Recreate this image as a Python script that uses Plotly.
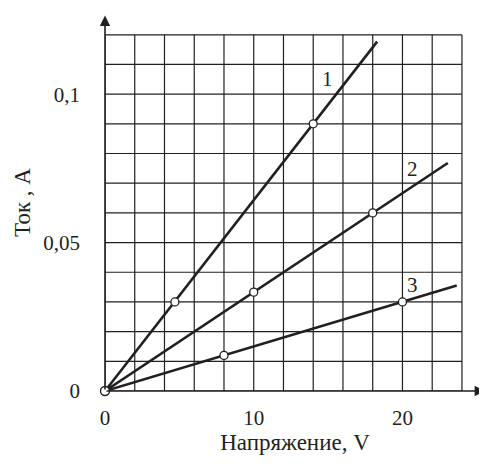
import plotly.graph_objects as go

# Data
line_labels = ["1", "2", "3"]
line_end_x = [18.3, 23.05, 23.65]
line_end_y = [0.1177, 0.0768, 0.0355]
points_x = [[4.7, 14.0], [10.0, 18.0], [8.0, 20.0]]
points_y = [[0.03, 0.09], [0.0333, 0.06], [0.012, 0.03]]
label_x = [14.95, 20.7, 20.7]
label_y = [0.105, 0.0748, 0.0358]
x_ticks = [0, 10, 20]
x_tick_text = ["0", "10", "20"]
y_ticks = [0, 0.05, 0.1]
y_tick_text = ["0", "0,05", "0,1"]
grid_x = list(range(0, 25, 2))
grid_y = [i / 100 for i in range(0, 13)]

FONT = "Times New Roman"
INK = "#231f20"

fig = go.Figure()

shapes = []
for gx in grid_x:
    shapes.append(dict(type="line", xref="x", yref="y", x0=gx, x1=gx, y0=0, y1=0.12,
                       line=dict(color=INK, width=1.2), layer="below"))
for gy in grid_y:
    shapes.append(dict(type="line", xref="x", yref="y", x0=0, x1=24, y0=gy, y1=gy,
                       line=dict(color=INK, width=1.2), layer="below"))
# tick marks
for v in y_ticks[1:]:
    shapes.append(dict(type="line", xref="x", yref="y", xsizemode="pixel", xanchor=0,
                       x0=-10, x1=0, y0=v, y1=v, line=dict(color=INK, width=1.5)))
for v in x_ticks[1:]:
    shapes.append(dict(type="line", xref="x", yref="y", ysizemode="pixel", yanchor=0,
                       x0=v, x1=v, y0=0, y1=-10, line=dict(color=INK, width=1.5)))

for i in range(3):
    fig.add_trace(go.Scatter(x=[0, line_end_x[i]], y=[0, line_end_y[i]], mode="lines",
                             line=dict(color=INK, width=2.6), showlegend=False,
                             hoverinfo="skip"))
for i in range(3):
    fig.add_trace(go.Scatter(x=points_x[i], y=points_y[i], mode="markers",
                             marker=dict(symbol="circle", size=8, color="white",
                                         line=dict(color=INK, width=1.3)),
                             showlegend=False, cliponaxis=False))
fig.add_trace(go.Scatter(x=[0], y=[0], mode="markers",
                         marker=dict(symbol="circle", size=9, color="white",
                                     line=dict(color=INK, width=1.4)),
                         showlegend=False, cliponaxis=False))

annotations = []
for i in range(3):
    annotations.append(dict(x=label_x[i], y=label_y[i], text=line_labels[i], showarrow=False,
                            font=dict(family=FONT, size=21, color=INK)))
# axis arrows
annotations.append(dict(x=25.55, y=0, ax=0, ay=0, axref="x", ayref="y", xref="x", yref="y",
                        text="", showarrow=True, arrowhead=2, arrowsize=1.3, arrowwidth=1.6,
                        arrowcolor=INK, standoff=0))
annotations.append(dict(x=0, y=0.1265, ax=0, ay=0, axref="x", ayref="y", xref="x", yref="y",
                        text="", showarrow=True, arrowhead=2, arrowsize=1.3, arrowwidth=1.6,
                        arrowcolor=INK, standoff=0))

fig.update_layout(
    width=479, height=456,
    margin=dict(l=97, r=2, t=6, b=73),
    paper_bgcolor="white", plot_bgcolor="white",
    shapes=shapes, annotations=annotations,
    font=dict(family=FONT, size=20, color=INK),
    xaxis=dict(range=[0, 25.55], showgrid=False, zeroline=False, showline=False,
               tickvals=x_ticks, ticktext=x_tick_text, ticks="", ticklabelstandoff=12,
               tickfont=dict(family=FONT, size=21, color=INK),
               title=dict(text="Напряжение, V", font=dict(family=FONT, size=23, color=INK),
                          standoff=0)),
    yaxis=dict(range=[0, 0.127], showgrid=False, zeroline=False, showline=False,
               tickvals=y_ticks, ticktext=y_tick_text, ticks="", ticklabelstandoff=24,
               tickfont=dict(family=FONT, size=21, color=INK),
               title=dict(text="Ток , A", font=dict(family=FONT, size=23, color=INK),
                          standoff=6)),
)

fig.write_html("out.html")
